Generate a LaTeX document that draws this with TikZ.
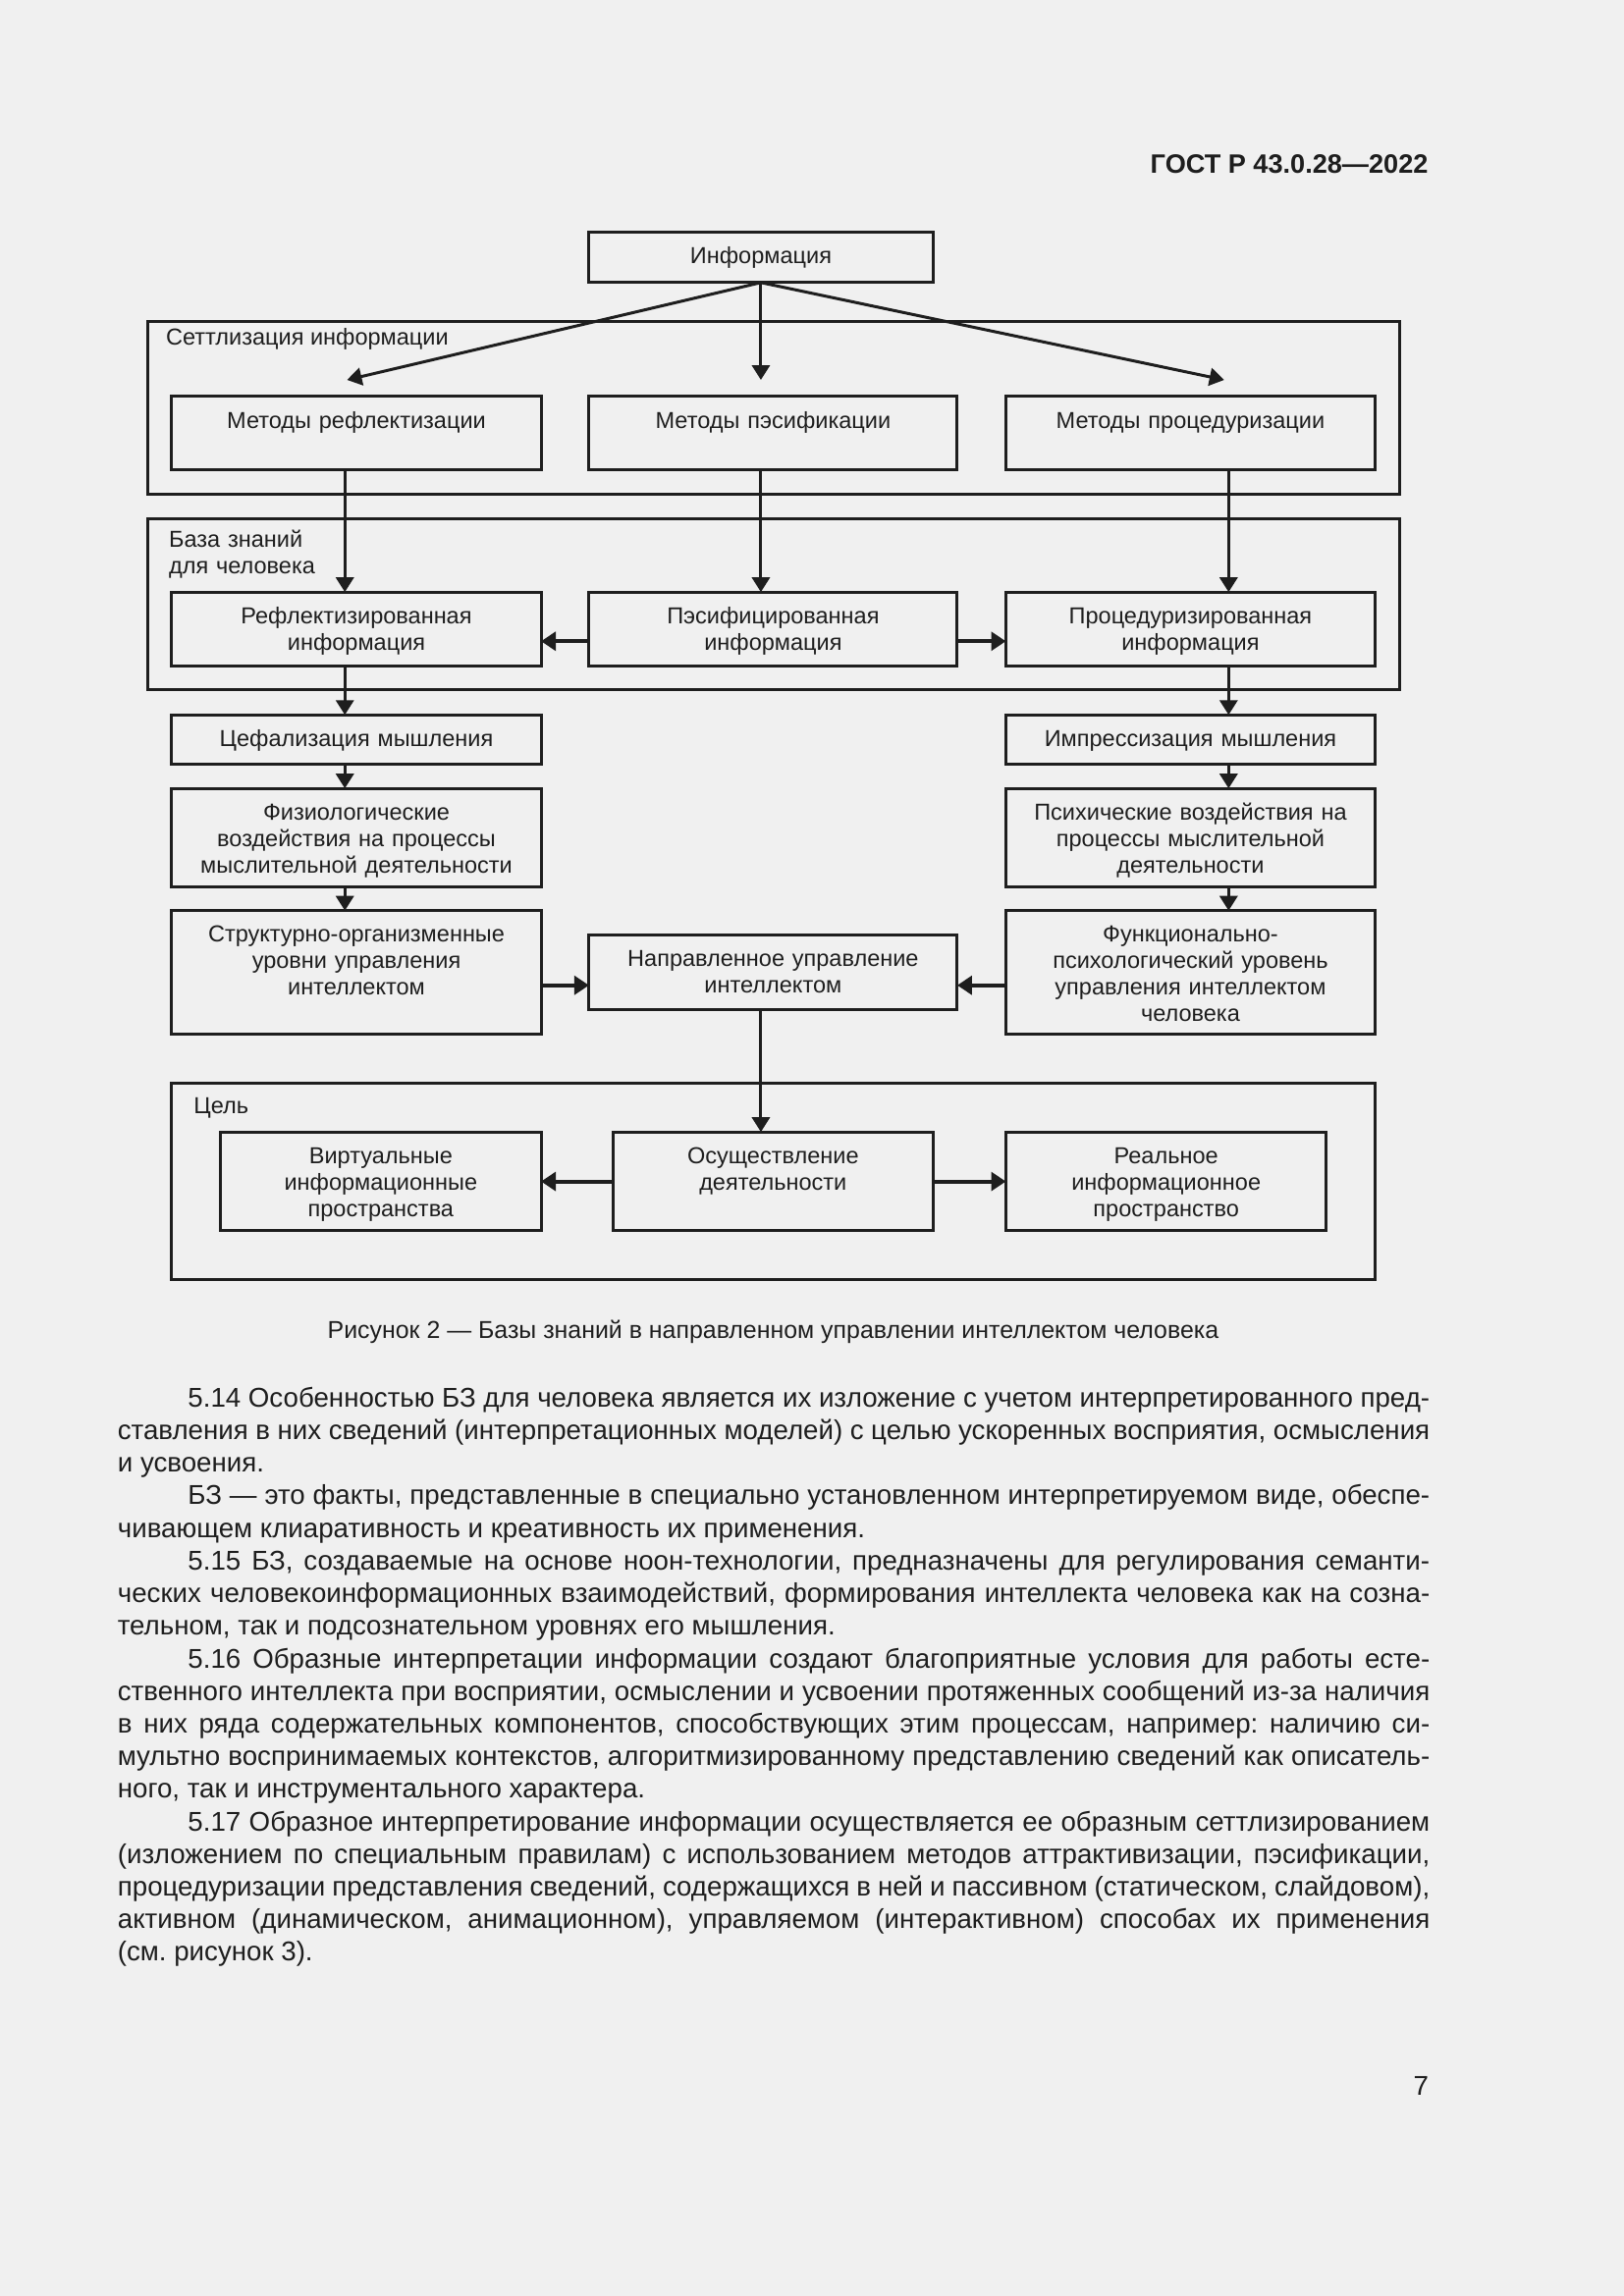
\documentclass[tikz,border=0pt]{standalone}
\usepackage{fontspec}
\setmainfont{Liberation Sans}
\usetikzlibrary{arrows.meta}
\definecolor{bg}{RGB}{240,240,240}
\definecolor{ink}{RGB}{30,30,30}
\newlength{\bw}\setlength{\bw}{169.67mm}
\newcommand\jl[1]{\makebox[\bw][s]{#1}}
\newcommand\il[1]{\makebox[\bw][s]{\hspace*{9.09mm}#1}}
\newcommand\bx[5]{\node[box, minimum width={(#4-#2)*0.18936mm}, minimum height={(#5-#3)*0.18936mm}] (#1) at ({(#2+#4)/2},{(#3+#5)/2}) {};}
\begin{document}
\begin{tikzpicture}[x=0.18936mm,y=-0.18936mm,
  box/.style={draw=ink, line width=1.08pt, inner sep=0pt, outer sep=0pt},
  txt/.style={inner sep=0pt, align=center, text width=46mm, anchor=base, font=\fontsize{8.5}{9.8}\selectfont, text=ink},
  lbl/.style={inner sep=0pt, font=\fontsize{8.5}{9.8}\selectfont, text=ink},
  arr/.style={draw=ink, line width=1.08pt, -{Triangle[length=1.9mm,width=2.3mm]}},
  harr/.style={draw=ink, line width=1.45pt, -{Triangle[length=1.9mm,width=2.4mm]}}]
\fill[bg] (0,0) rectangle (1109,1568.3);
\useasboundingbox (0,0) rectangle (1109,1568.3);
% header
\node[anchor=base east, inner sep=0pt, text=ink, font=\bfseries\fontsize{9.8}{12}\selectfont] (hdr) at (975.6,118.5) {ГОСТ Р 43.0.28—2022};
% group frames
\bx{g1}{100.8}{219.8}{955.5}{337.9}
\bx{g2}{100.8}{354.2}{955.5}{470.7}
\bx{g3}{117.3}{739.8}{939}{873.8}
\node[lbl, anchor=base west] (g1l) at (113,236) {Сеттлизация информации};
\node[lbl, anchor=base west, text width=30mm, align=left] (g2l) at (115,374) {База знаний\\для человека};
\node[lbl, anchor=base west] (g3l) at (132,761) {Цель};
% boxes
\bx{info}{402.2}{158.5}{637}{193}
\bx{m1}{117.3}{270.3}{369.5}{320.9}
\bx{m2}{402.2}{270.3}{653.7}{320.9}
\bx{m3}{686.9}{270.3}{939}{320.9}
\bx{i1}{117.3}{404.4}{369.5}{455}
\bx{i2}{402.2}{404.4}{653.7}{455}
\bx{i3}{686.9}{404.4}{939}{455}
\bx{c1}{117.3}{488.3}{369.5}{522}
\bx{c2}{686.9}{488.3}{939}{522}
\bx{f1}{117.3}{538.5}{369.5}{605.7}
\bx{f2}{686.9}{538.5}{939}{605.7}
\bx{s1}{117.3}{622}{369.5}{706.6}
\bx{s2}{686.9}{622}{939}{706.6}
\bx{n}{402.2}{638.9}{653.7}{689.7}
\bx{v}{150.6}{773.2}{369.5}{840.7}
\bx{o}{418.8}{773.2}{637}{840.7}
\bx{r}{686.9}{773.2}{905.8}{840.7}
% texts
\node[txt] (infot) at ([yshift=-4.1mm]info.north) {Информация};
\node[txt] (m1t) at ([yshift=-4.25mm]m1.north) {Методы рефлектизации};
\node[txt] (m2t) at ([yshift=-4.25mm]m2.north) {Методы пэсификации};
\node[txt] (m3t) at ([yshift=-4.25mm]m3.north) {Методы процедуризации};
\node[txt] (i1t) at ([yshift=-4.05mm]i1.north) {Рефлектизированная\\информация};
\node[txt] (i2t) at ([yshift=-4.05mm]i2.north) {Пэсифицированная\\информация};
\node[txt] (i3t) at ([yshift=-4.05mm]i3.north) {Процедуризированная\\информация};
\node[txt] (c1t) at ([yshift=-4.05mm]c1.north) {Цефализация мышления};
\node[txt] (c2t) at ([yshift=-4.05mm]c2.north) {Импрессизация мышления};
\node[txt] (f1t) at ([yshift=-4.05mm]f1.north) {Физиологические\\воздействия на процессы\\мыслительной деятельности};
\node[txt] (f2t) at ([yshift=-4.05mm]f2.north) {Психические воздействия на\\процессы мыслительной\\деятельности};
\node[txt] (s1t) at ([yshift=-4.05mm]s1.north) {Структурно-организменные\\уровни управления\\интеллектом};
\node[txt] (s2t) at ([yshift=-4.05mm]s2.north) {Функционально-\\психологический уровень\\управления интеллектом\\человека};
\node[txt] (nt) at ([yshift=-4.05mm]n.north) {Направленное управление\\интеллектом};
\node[txt, text width=40mm] (vt) at ([yshift=-4.05mm]v.north) {Виртуальные\\информационные\\пространства};
\node[txt, text width=40mm] (ot) at ([yshift=-4.05mm]o.north) {Осуществление\\деятельности};
\node[txt, text width=40mm] (rt) at ([yshift=-4.05mm]r.north) {Реальное\\информационное\\пространство};
% connector coordinates
\coordinate (t1) at (237,259.5);
\coordinate (t2) at (519.6,259.5);
\coordinate (t3) at (836,259.5);
\coordinate (cL) at (235.5,0);
\coordinate (cM) at (519.6,0);
\coordinate (cR) at (839,0);
\coordinate (yA) at (0,438);
\coordinate (yB) at (0,673);
\coordinate (yC) at (0,807);
% arrows
\draw[arr] (info.south) -- (t1);
\draw[arr] (info.south) -- (t2);
\draw[arr] (info.south) -- (t3);
\draw[arr] (m1.south -| cL) -- (i1.north -| cL);
\draw[arr] (m2.south -| cM) -- (i2.north -| cM);
\draw[arr] (m3.south -| cR) -- (i3.north -| cR);
\draw[harr] (i2.west |- yA) -- (i1.east |- yA);
\draw[harr] (i2.east |- yA) -- (i3.west |- yA);
\draw[arr] (i1.south -| cL) -- (c1.north -| cL);
\draw[arr] (c1.south -| cL) -- (f1.north -| cL);
\draw[arr] (f1.south -| cL) -- (s1.north -| cL);
\draw[arr] (i3.south -| cR) -- (c2.north -| cR);
\draw[arr] (c2.south -| cR) -- (f2.north -| cR);
\draw[arr] (f2.south -| cR) -- (s2.north -| cR);
\draw[harr] (s1.east |- yB) -- (n.west |- yB);
\draw[harr] (s2.west |- yB) -- (n.east |- yB);
\draw[arr] (n.south -| cM) -- (o.north -| cM);
\draw[harr] (o.west |- yC) -- (v.east |- yC);
\draw[harr] (o.east |- yC) -- (r.west |- yC);
% caption
\node[anchor=base, inner sep=0pt, text=ink, font=\fontsize{9}{11}\selectfont] (cap) at (528,914) {Рисунок 2 — Базы знаний в направленном управлении интеллектом человека};
% body text
\node[anchor=base west, inner sep=0pt, text width=169.67mm, align=left, text=ink, font=\fontsize{10}{12}\selectfont] (body) at (80,961) {%
\frenchspacing\spaceskip=0pt\xspaceskip=0pt
\il{5.14 Особенностью БЗ для человека является их изложение с учетом интерпретированного пред-}\\
\jl{ставления в них сведений (интерпретационных моделей) с целью ускоренных восприятия, осмысления}\\
и усвоения.\\
\il{БЗ — это факты, представленные в специально установленном интерпретируемом виде, обеспе-}\\
чивающем клиаративность и креативность их применения.\\
\il{5.15 БЗ, создаваемые на основе ноон-технологии, предназначены для регулирования семанти-}\\
\jl{ческих человекоинформационных взаимодействий, формирования интеллекта человека как на созна-}\\
тельном, так и подсознательном уровнях его мышления.\\
\il{5.16 Образные интерпретации информации создают благоприятные условия для работы есте-}\\
\jl{ственного интеллекта при восприятии, осмыслении и усвоении протяженных сообщений из-за наличия}\\
\jl{в них ряда содержательных компонентов, способствующих этим процессам, например: наличию си-}\\
\jl{мультно воспринимаемых контекстов, алгоритмизированному представлению сведений как описатель-}\\
ного, так и инструментального характера.\\
\il{5.17 Образное интерпретирование информации осуществляется ее образным сеттлизированием}\\
\jl{(изложением по специальным правилам) с использованием методов аттрактивизации, пэсификации,}\\
\jl{процедуризации представления сведений, содержащихся в ней и пассивном (статическом, слайдовом),}\\
\jl{активном (динамическом, анимационном), управляемом (интерактивном) способах их применения}\\
(см. рисунок 3).};
\node[anchor=base east, inner sep=0pt, text=ink, font=\fontsize{10}{12}\selectfont] (pg) at (976,1431) {7};
\end{tikzpicture}
\end{document}
